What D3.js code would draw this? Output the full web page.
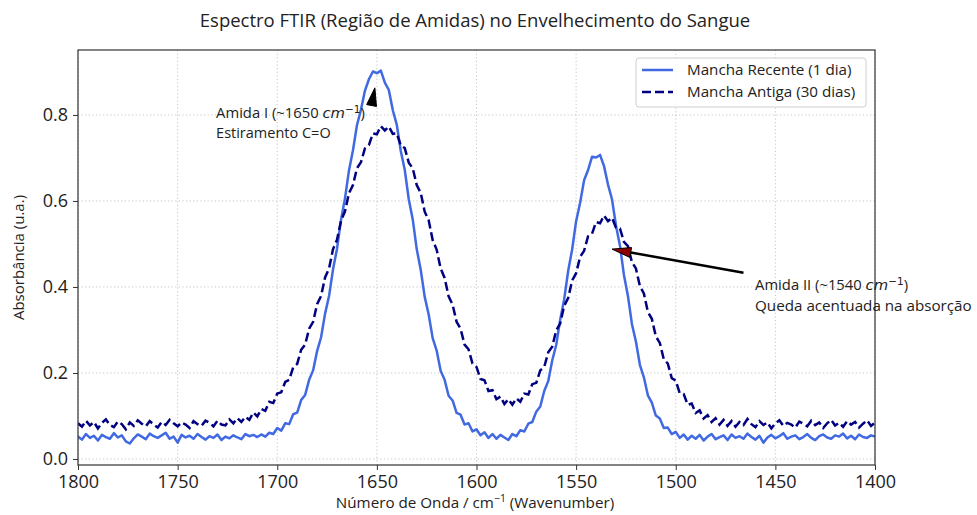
<!DOCTYPE html>
<html>
<head>
<meta charset="utf-8">
<script src="https://cdn.jsdelivr.net/npm/d3@7"></script>
<style>
  body { margin: 0; background: #fff; }
  text { font-family: "Open Sans", sans-serif; fill: #222; }
</style>
</head>
<body>
<svg id="chart" width="977" height="515"></svg>
<script>
// ---- data ----
const chartTitle = "Espectro FTIR (Região de Amidas) no Envelhecimento do Sangue";
const seriesNames = ["Mancha Recente (1 dia)", "Mancha Antiga (30 dias)"];
const xTicks = [1800, 1750, 1700, 1650, 1600, 1550, 1500, 1450, 1400];
const yTicks = [0.0, 0.2, 0.4, 0.6, 0.8];

// sampling grid: 1800 -> 1400 cm-1, every 2 cm-1
const wavenumbers = d3.range(1800, 1399, -2);

const recentAbs = [
  0.052,0.045,0.058,0.049,0.054,0.043,0.056,0.051,0.047,0.060,
  0.050,0.055,0.041,0.036,0.048,0.057,0.052,0.046,0.059,0.053,
  0.049,0.055,0.061,0.047,0.052,0.038,0.056,0.050,0.054,0.047,
  0.058,0.051,0.045,0.053,0.049,0.057,0.044,0.052,0.048,0.055,
  0.050,0.046,0.058,0.053,0.056,0.051,0.057,0.052,0.061,0.058,
  0.072,0.066,0.083,0.081,0.104,0.108,0.137,0.149,0.184,0.206,
  0.251,0.283,0.338,0.379,0.441,0.489,0.556,0.606,0.671,0.718,
  0.776,0.812,0.856,0.883,0.901,0.897,0.903,0.875,0.858,0.811,
  0.777,0.716,0.672,0.604,0.557,0.488,0.440,0.377,0.336,0.281,
  0.252,0.205,0.184,0.147,0.136,0.107,0.103,0.080,0.083,0.064,
  0.069,0.055,0.062,0.049,0.058,0.047,0.056,0.050,0.044,0.058,
  0.053,0.067,0.064,0.082,0.086,0.110,0.122,0.158,0.181,0.229,
  0.265,0.324,0.371,0.437,0.487,0.553,0.596,0.648,0.672,0.703,
  0.701,0.707,0.681,0.638,0.604,0.543,0.496,0.428,0.379,0.314,
  0.273,0.219,0.190,0.148,0.131,0.101,0.094,0.072,0.073,0.058,
  0.063,0.049,0.057,0.045,0.054,0.047,0.056,0.043,0.052,0.058,
  0.046,0.051,0.055,0.044,0.057,0.049,0.053,0.047,0.059,0.051,
  0.045,0.054,0.038,0.050,0.056,0.048,0.053,0.060,0.047,0.052,
  0.055,0.046,0.051,0.058,0.049,0.044,0.053,0.057,0.050,0.047,
  0.055,0.052,0.059,0.048,0.054,0.046,0.057,0.051,0.049,0.055,
  0.052
];

const agedAbs = [
  0.083,0.075,0.089,0.078,0.086,0.071,0.084,0.092,0.079,0.074,
  0.087,0.081,0.069,0.085,0.077,0.090,0.082,0.076,0.088,0.080,
  0.073,0.086,0.079,0.091,0.083,0.076,0.085,0.080,0.072,0.088,
  0.081,0.077,0.089,0.084,0.076,0.089,0.080,0.078,0.092,0.083,
  0.095,0.086,0.098,0.091,0.108,0.099,0.116,0.112,0.133,0.130,
  0.152,0.155,0.179,0.184,0.213,0.221,0.254,0.266,0.303,0.319,
  0.360,0.379,0.422,0.443,0.488,0.510,0.554,0.576,0.618,0.637,
  0.676,0.690,0.722,0.730,0.757,0.755,0.774,0.764,0.773,0.756,
  0.757,0.729,0.723,0.689,0.676,0.637,0.619,0.575,0.555,0.509,
  0.487,0.443,0.421,0.378,0.359,0.319,0.303,0.266,0.255,0.222,
  0.214,0.186,0.183,0.158,0.160,0.139,0.145,0.128,0.139,0.126,
  0.141,0.133,0.152,0.150,0.174,0.177,0.206,0.214,0.248,0.261,
  0.299,0.315,0.356,0.374,0.415,0.432,0.470,0.484,0.518,0.524,
  0.551,0.548,0.566,0.553,0.561,0.538,0.536,0.505,0.495,0.458,
  0.443,0.402,0.385,0.342,0.326,0.285,0.270,0.232,0.222,0.188,
  0.182,0.153,0.151,0.126,0.129,0.107,0.113,0.094,0.102,0.086,
  0.095,0.080,0.091,0.077,0.088,0.075,0.086,0.079,0.093,0.081,
  0.074,0.088,0.079,0.085,0.071,0.083,0.090,0.077,0.084,0.080,
  0.073,0.087,0.082,0.076,0.089,0.079,0.085,0.072,0.083,0.091,
  0.078,0.084,0.075,0.088,0.080,0.086,0.073,0.082,0.090,0.077,
  0.084
];

// annotation anchors, in data coordinates [wavenumber, absorbance]
const amide1Text = [1730.7, 0.80];
const amide1Arrow = [[1652.7, 0.821], [1651, 0.863]];
const amide2Text = [1460.2, 0.397];
const amide2Arrow = [[1466, 0.433], [1532, 0.488]];

// ---- layout ----
const W = 977, H = 515;
const margin = { top: 50, right: 102, bottom: 50, left: 78 };
const svg = d3.select("#chart");

const x = d3.scaleLinear().domain([1800, 1400]).range([margin.left, W - margin.right]);
const y = d3.scaleLinear().domain([-0.014, 0.951]).range([H - margin.bottom, margin.top]);

// grid
const grid = svg.append("g");
grid.selectAll(".gx").data(xTicks).join("line")
  .attr("x1", d => x(d)).attr("x2", d => x(d))
  .attr("y1", margin.top).attr("y2", H - margin.bottom);
grid.selectAll(".gy").data(yTicks).join("line")
  .attr("x1", margin.left).attr("x2", W - margin.right)
  .attr("y1", d => y(d)).attr("y2", d => y(d));
grid.selectAll("line")
  .attr("stroke", "#b8b8b8").attr("stroke-width", 0.8)
  .attr("stroke-dasharray", "1.2,2.4");

// clip for the spectra
svg.append("clipPath").attr("id", "plotArea")
  .append("rect")
  .attr("x", margin.left).attr("y", margin.top)
  .attr("width", W - margin.left - margin.right)
  .attr("height", H - margin.top - margin.bottom);

const line = d3.line().x(d => x(d[0])).y(d => y(d[1]));

svg.append("path")
  .datum(wavenumbers.map((w, i) => [w, recentAbs[i]]))
  .attr("clip-path", "url(#plotArea)")
  .attr("d", line)
  .attr("fill", "none").attr("stroke", "#4169E1")
  .attr("stroke-width", 2.5).attr("stroke-linejoin", "round");

svg.append("path")
  .datum(wavenumbers.map((w, i) => [w, agedAbs[i]]))
  .attr("clip-path", "url(#plotArea)")
  .attr("d", line)
  .attr("fill", "none").attr("stroke", "#000080")
  .attr("stroke-width", 2.5).attr("stroke-dasharray", "9,4");

// axes
const xAxis = svg.append("g")
  .attr("transform", `translate(0,${H - margin.bottom})`)
  .call(d3.axisBottom(x).tickValues(xTicks).tickSize(5).tickPadding(5).tickFormat(d3.format("d")));
const yAxis = svg.append("g")
  .attr("transform", `translate(${margin.left},0)`)
  .call(d3.axisLeft(y).tickValues(yTicks).tickSize(5).tickPadding(5).tickFormat(d3.format(".1f")));
[xAxis, yAxis].forEach(g => {
  g.select(".domain").remove();
  g.attr("font-family", "'Open Sans', sans-serif").attr("font-size", 18);
  g.selectAll(".tick line").attr("stroke", "#333").attr("stroke-width", 1);
  g.selectAll(".tick text").attr("fill", "#222");
});

// frame
svg.append("rect")
  .attr("x", margin.left).attr("y", margin.top)
  .attr("width", W - margin.left - margin.right)
  .attr("height", H - margin.top - margin.bottom)
  .attr("fill", "none").attr("stroke", "#333").attr("stroke-width", 1.2);

// title
svg.append("text")
  .attr("x", 475).attr("y", 27)
  .attr("text-anchor", "middle").attr("font-size", 18.5)
  .text(chartTitle);

// axis labels
const xl = svg.append("text")
  .attr("x", 475).attr("y", 508)
  .attr("text-anchor", "middle").attr("font-size", 15.2);
xl.append("tspan").text("Número de Onda / cm");
xl.append("tspan").attr("font-size", 10.5).attr("dy", -6).text("−1");
xl.append("tspan").attr("dy", 6).text(" (Wavenumber)");

svg.append("text")
  .attr("transform", `translate(24,${(margin.top + H - margin.bottom) / 2}) rotate(-90)`)
  .attr("text-anchor", "middle").attr("font-size", 15)
  .text("Absorbância (u.a.)");

// legend
const lg = svg.append("g");
lg.append("rect")
  .attr("x", 636).attr("y", 58).attr("width", 230).attr("height", 49).attr("rx", 3)
  .attr("fill", "#fff").attr("fill-opacity", 0.85)
  .attr("stroke", "#cfcfcf").attr("stroke-width", 1);
const legendStyles = [
  { color: "#4169E1", dash: null },
  { color: "#000080", dash: "9,4" }
];
seriesNames.forEach((name, i) => {
  const ly = 70 + i * 22;
  lg.append("line")
    .attr("x1", 642).attr("x2", 673).attr("y1", ly).attr("y2", ly)
    .attr("stroke", legendStyles[i].color).attr("stroke-width", 2.5)
    .attr("stroke-dasharray", legendStyles[i].dash);
  lg.append("text")
    .attr("x", 687).attr("y", ly).attr("dy", "0.35em")
    .attr("font-size", 15.2).text(name);
});

// annotations
function arrowHead(from, to, len, half, fill) {
  const x0 = x(from[0]), y0 = y(from[1]);
  const x1 = x(to[0]), y1 = y(to[1]);
  const dx = x1 - x0, dy = y1 - y0, L = Math.hypot(dx, dy);
  const ux = dx / L, uy = dy / L;
  const bx = x1 - ux * len, by = y1 - uy * len;
  const pts = [[x1, y1], [bx - uy * half, by + ux * half], [bx + uy * half, by - ux * half]];
  svg.append("polygon")
    .attr("points", pts.map(p => p.join(",")).join(" "))
    .attr("fill", fill).attr("stroke", "#000").attr("stroke-width", 1);
  return [bx, by];
}

function cmLabel(g, prefix, tx, ty) {
  const t = g.append("text").attr("x", tx).attr("y", ty).attr("font-size", 14.8);
  t.append("tspan").text(prefix);
  t.append("tspan").attr("font-family", "'DejaVu Sans', sans-serif")
    .attr("font-style", "italic").text("cm");
  t.append("tspan").attr("font-family", "'DejaVu Sans', sans-serif")
    .attr("font-size", 10.5).attr("dy", -5).text("−1");
  t.append("tspan").attr("dy", 5).text(")");
}

const ann = svg.append("g");
cmLabel(ann, "Amida I (~1650 ", x(amide1Text[0]), y(amide1Text[1]) + 3);
ann.append("text").attr("x", x(amide1Text[0])).attr("y", y(amide1Text[1]) + 23)
  .attr("font-size", 14.5).text("Estiramento C=O");
arrowHead(amide1Arrow[0], amide1Arrow[1], 18, 5, "#000");

const base2 = arrowHead(amide2Arrow[0], amide2Arrow[1], 19, 5, "#8B0000");
svg.append("line")
  .attr("x1", x(amide2Arrow[0][0])).attr("y1", y(amide2Arrow[0][1]))
  .attr("x2", base2[0]).attr("y2", base2[1])
  .attr("stroke", "#000").attr("stroke-width", 2.5);
cmLabel(ann, "Amida II (~1540 ", x(amide2Text[0]), y(amide2Text[1]) + 2);
ann.append("text").attr("x", x(amide2Text[0])).attr("y", y(amide2Text[1]) + 23)
  .attr("font-size", 15.2).text("Queda acentuada na absorção");
</script>
</body>
</html>
